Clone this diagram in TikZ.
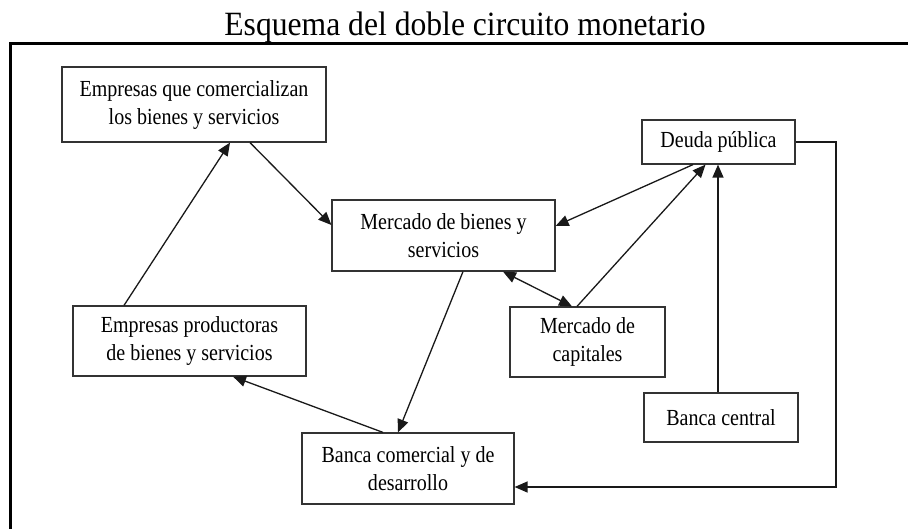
\documentclass[tikz,border=0pt]{standalone}
\usepackage{fontspec}
\setmainfont{Liberation Serif}[FakeStretch=0.87]
\newfontfamily\titlefont{Liberation Serif}[FakeStretch=0.93]
\usetikzlibrary{arrows.meta,calc}
\tikzset{
  box/.style={draw=black!80, line width=1.2pt, align=center, inner sep=0pt,
    font=\fontsize{23}{28}\selectfont},
  conn/.style={line width=1.3pt, draw=black!90},
  tip/.style={-{Triangle[length=13pt,width=11pt]}},
  tips/.style={{Triangle[length=13pt,width=11pt]}-{Triangle[length=13pt,width=11pt]}},
  frame/.style={line width=3pt, black}
}
\begin{document}
\begin{tikzpicture}[x=1pt,y=-1pt]
\useasboundingbox (0,0) rectangle (908,528);
\fill[white] (0,0) rectangle (908,528);
\node[font=\titlefont\fontsize{34}{40}\selectfont, anchor=base, inner sep=0pt] (title) at (465,35) {Esquema del doble circuito monetario};
\draw[frame] (10,530) -- (10,43.5) -- (910,43.5);

\node[box, minimum width=264pt, minimum height=75pt] (comerc) at (194,104.5) {Empresas que comercializan\\los bienes y servicios};
\node[box, minimum width=223pt, minimum height=71pt] (mbienes) at (443.5,235.5) {Mercado de bienes y\\servicios};
\node[box, minimum width=153pt, minimum height=44pt] (deuda) at (718.5,142) {Deuda pública};
\node[box, minimum width=155pt, minimum height=70pt] (capit) at (587.5,342) {Mercado de\\capitales};
\node[box, minimum width=233pt, minimum height=70pt] (prod) at (189.5,341) {Empresas productoras\\de bienes y servicios};
\node[box, minimum width=212pt, minimum height=71pt] (bcom) at (408,468.5) {Banca comercial y de\\desarrollo};
\node[box, minimum width=154pt, minimum height=49pt] (bcen) at (721,417.5) {Banca central};
\coordinate (corner) at (836,487);

\draw[conn, tip] ([xshift=-65.5pt]prod.north) -- ([xshift=36pt]comerc.south);
\draw[conn, tip] ([xshift=56pt]comerc.south) -- ([yshift=10.5pt]mbienes.west);
\draw[conn, tip] ([xshift=-25.5pt]deuda.south) -- ([yshift=9.5pt]mbienes.east);
\draw[conn, tips] ([xshift=59.5pt]mbienes.south) -- ([xshift=-15.5pt]capit.north);
\draw[conn, tip] ([xshift=-10.5pt]capit.north) -- ([xshift=-13pt]deuda.south);
\draw[conn, tip] ([xshift=-3pt]bcen.north) -- ([xshift=-0.5pt]deuda.south);
\draw[conn, tip] ([xshift=19.5pt]mbienes.south) -- ([xshift=-10pt]bcom.north);
\draw[conn, tip] ([xshift=-25pt]bcom.north) -- ([xshift=43.5pt]prod.south);
\draw[conn, tip] (deuda.east) -- (deuda.east -| corner) -- (corner) -- (bcom.east |- corner);
\end{tikzpicture}
\end{document}
